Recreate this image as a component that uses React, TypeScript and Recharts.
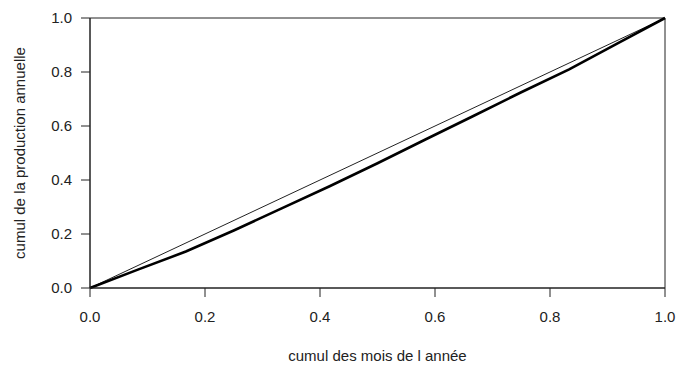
import { LineChart, Line, XAxis, YAxis, ReferenceArea, Label } from 'recharts';

// cumulative share of the year (months 0..12 / 12)
const monthShare = [0, 0.0833, 0.1667, 0.25, 0.3333, 0.4167, 0.5, 0.5833, 0.6667, 0.75, 0.8333, 0.9167, 1];
// cumulative share of annual production
const productionShare = [0, 0.068, 0.135, 0.213, 0.295, 0.377, 0.462, 0.55, 0.637, 0.725, 0.81, 0.905, 1];
// equality line
const diagX = [0, 1];
const diagY = [0, 1];
const ticks = [0, 0.2, 0.4, 0.6, 0.8, 1];

const curve = monthShare.map((x, i) => ({ x, y: productionShare[i] }));
const diagonal = diagX.map((x, i) => ({ x, y: diagY[i] }));

const ink = '#222';
const font = { fontFamily: '"Liberation Sans", Arial, sans-serif', fontSize: 15, fill: ink };

export default function App() {
  return (
    <div style={{ position: 'absolute', left: 0, top: 0, width: 676, height: 368, background: '#fff' }}>
      <LineChart width={676} height={368} margin={{ top: 18, right: 11, left: 0, bottom: 0 }}>
        <XAxis
          type="number"
          dataKey="x"
          domain={[0, 1]}
          ticks={ticks}
          tickFormatter={(v: number) => v.toFixed(1)}
          height={80}
          tickSize={9}
          tickMargin={14}
          stroke={ink}
          tick={font}
          allowDuplicatedCategory={false}
        >
          <Label value="cumul des mois de l année" position="insideBottom" offset={7} style={font} />
        </XAxis>
        <YAxis
          type="number"
          dataKey="y"
          domain={[0, 1]}
          ticks={ticks}
          tickFormatter={(v: number) => v.toFixed(1)}
          width={90}
          tickSize={9}
          tickMargin={9}
          stroke={ink}
          tick={font}
        >
          <Label
            value="cumul de la production annuelle"
            angle={-90}
            position="insideLeft"
            offset={20}
            style={{ ...font, textAnchor: 'middle' }}
          />
        </YAxis>
        <ReferenceArea x1={0} x2={1} y1={0} y2={1} fill="none" stroke={ink} strokeWidth={1} />
        <Line data={diagonal} dataKey="y" stroke={ink} strokeWidth={1} dot={false} isAnimationActive={false} />
        <Line data={curve} dataKey="y" stroke="#000" strokeWidth={2.6} dot={false} isAnimationActive={false} />
      </LineChart>
    </div>
  );
}
